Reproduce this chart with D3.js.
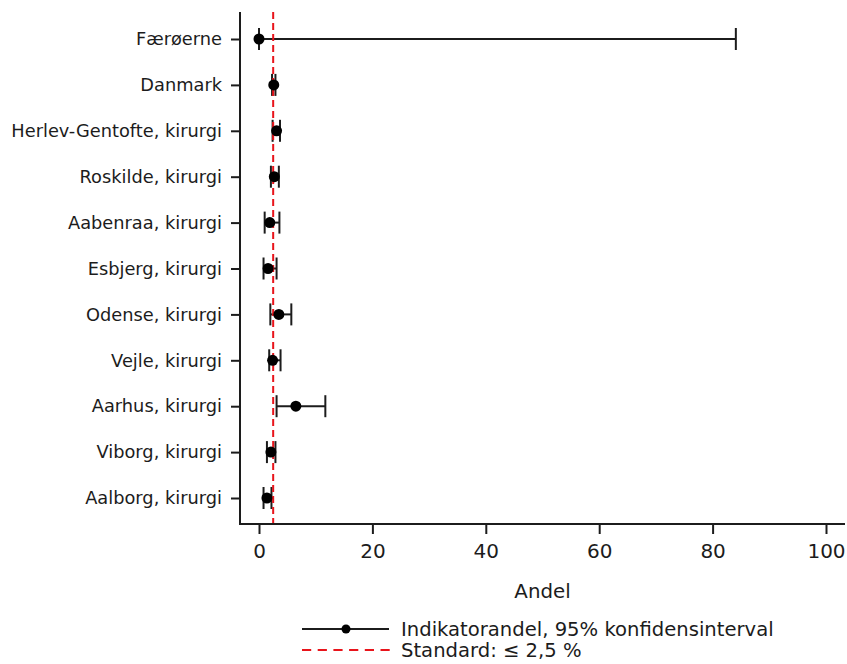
<!DOCTYPE html>
<html>
<head>
<meta charset="utf-8">
<script src="https://cdn.jsdelivr.net/npm/d3@7"></script>
<style>
  html, body { margin: 0; padding: 0; background: #fff; }
  svg { display: block; font-family: "DejaVu Sans", sans-serif; }
</style>
</head>
<body>
<svg id="chart" width="847" height="664"></svg>
<script>
// Units, in plot order from top to bottom
const categories = [
  "Færøerne",
  "Danmark",
  "Herlev-Gentofte, kirurgi",
  "Roskilde, kirurgi",
  "Aabenraa, kirurgi",
  "Esbjerg, kirurgi",
  "Odense, kirurgi",
  "Vejle, kirurgi",
  "Aarhus, kirurgi",
  "Viborg, kirurgi",
  "Aalborg, kirurgi"
];
// Indicator share (%) and 95% confidence limits
const andel = [0.0, 2.6, 3.1, 2.7, 1.9, 1.6, 3.5, 2.4, 6.5, 2.1, 1.4];
const lower = [0.0, 2.3, 2.4, 2.1, 1.0, 0.8, 2.0, 1.8, 3.1, 1.4, 0.8];
const upper = [84.1, 2.9, 3.7, 3.5, 3.6, 3.1, 5.7, 3.8, 11.7, 2.9, 2.2];
// Standard line and x-axis ticks
const standard = 2.5;
const xTicks = [0, 20, 40, 60, 80, 100];
const legendLabels = ["Indikatorandel, 95% konfidensinterval", "Standard: \u2264 2,5 %"];

const svg = d3.select("#chart");
const ink = "#1c1c1c";

const plotLeft = 240, plotRight = 845, plotTop = 12, plotBottom = 524;

const x = d3.scaleLinear().domain([0, 100]).range([259, 826]);
const y = d3.scalePoint().domain(categories).range([39, 498]);

const rows = categories.map((c, i) => ({ c, v: andel[i], lo: lower[i], hi: upper[i] }));

// Axes
const xAxis = svg.append("g")
  .attr("transform", `translate(0,${plotBottom})`)
  .call(d3.axisBottom(x).tickValues(xTicks).tickSize(10).tickPadding(10).tickFormat(d3.format("d")));
xAxis.select(".domain").remove();
xAxis.selectAll(".tick line").attr("stroke", ink).attr("stroke-width", 2);
xAxis.selectAll(".tick text").attr("fill", ink).style("font-size", "20px").style("font-family", "DejaVu Sans");

const yAxis = svg.append("g")
  .attr("transform", `translate(${plotLeft},0)`)
  .call(d3.axisLeft(y).tickSize(9).tickPadding(9));
yAxis.select(".domain").remove();
yAxis.selectAll(".tick line").attr("stroke", ink).attr("stroke-width", 2);
yAxis.selectAll(".tick text").attr("fill", ink).style("font-size", "17.8px").style("font-family", "DejaVu Sans");

svg.append("line")
  .attr("x1", plotLeft).attr("x2", plotLeft)
  .attr("y1", plotTop).attr("y2", plotBottom + 1)
  .attr("stroke", ink).attr("stroke-width", 2);
svg.append("line")
  .attr("x1", plotLeft - 1).attr("x2", plotRight)
  .attr("y1", plotBottom).attr("y2", plotBottom)
  .attr("stroke", ink).attr("stroke-width", 2);

// Axis title
svg.append("text")
  .attr("x", (plotLeft + plotRight) / 2).attr("y", 598)
  .attr("text-anchor", "middle")
  .attr("fill", ink)
  .style("font-size", "19.8px")
  .text("Andel");

// Confidence intervals
const capH = 11;
const ci = svg.append("g").attr("stroke", ink).attr("stroke-width", 2);
ci.selectAll("line.ci").data(rows).join("line")
  .attr("class", "ci")
  .attr("x1", d => x(d.lo)).attr("x2", d => x(d.hi))
  .attr("y1", d => y(d.c)).attr("y2", d => y(d.c));
ci.selectAll("line.lo").data(rows).join("line")
  .attr("class", "lo")
  .attr("x1", d => x(d.lo)).attr("x2", d => x(d.lo))
  .attr("y1", d => y(d.c) - capH).attr("y2", d => y(d.c) + capH);
ci.selectAll("line.hi").data(rows).join("line")
  .attr("class", "hi")
  .attr("x1", d => x(d.hi)).attr("x2", d => x(d.hi))
  .attr("y1", d => y(d.c) - capH).attr("y2", d => y(d.c) + capH);

// Standard reference line
svg.append("line")
  .attr("x1", x(standard)).attr("x2", x(standard))
  .attr("y1", plotTop).attr("y2", plotBottom - 1)
  .attr("stroke", "#e8141b").attr("stroke-width", 2)
  .attr("stroke-dasharray", "7,4");

// Point estimates
svg.append("g").selectAll("circle").data(rows).join("circle")
  .attr("cx", d => x(d.v)).attr("cy", d => y(d.c))
  .attr("r", 5.5).attr("fill", "#000");

// Legend
const lg = svg.append("g");
lg.append("line").attr("x1", 302).attr("x2", 389).attr("y1", 629).attr("y2", 629)
  .attr("stroke", ink).attr("stroke-width", 2);
lg.append("circle").attr("cx", 346).attr("cy", 629).attr("r", 4.5).attr("fill", "#000");
lg.append("line").attr("x1", 302).attr("x2", 390).attr("y1", 650).attr("y2", 650)
  .attr("stroke", "#e8141b").attr("stroke-width", 2)
  .attr("stroke-dasharray", "9.2,6.5");
lg.selectAll("text").data(legendLabels).join("text")
  .attr("x", 401).attr("y", (d, i) => 629 + i * 21)
  .attr("dy", "0.35em")
  .attr("fill", ink)
  .style("font-size", "19.6px")
  .text(d => d);
</script>
</body>
</html>
